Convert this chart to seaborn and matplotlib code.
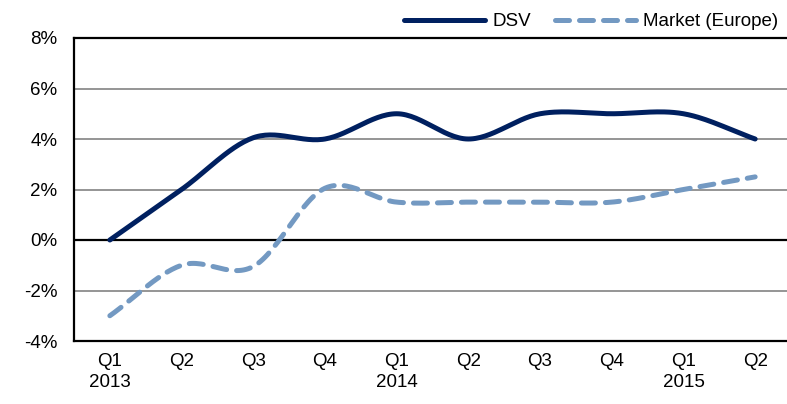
import numpy as np
import pandas as pd
import matplotlib
matplotlib.use("Agg")
import matplotlib.pyplot as plt
import seaborn as sns

quarters = ["Q1\n2013", "Q2", "Q3", "Q4", "Q1\n2014", "Q2", "Q3", "Q4", "Q1\n2015", "Q2"]
dsv = [0.0, 2.0, 4.05, 4.0, 5.0, 4.0, 5.0, 5.0, 5.0, 4.0]
market = [-3.0, -1.0, -1.05, 2.05, 1.5, 1.5, 1.5, 1.5, 2.0, 2.5]


def smooth(y, n=30):
    # Excel-style smoothed line (Catmull-Rom through the data points)
    y = np.asarray(y, float)
    x = np.arange(len(y), dtype=float)
    p = np.concatenate([[2 * y[0] - y[1]], y, [2 * y[-1] - y[-2]]])
    xs, ys = [], []
    for i in range(len(y) - 1):
        t = np.linspace(0, 1, n, endpoint=(i == len(y) - 2))
        p0, p1, p2, p3 = p[i], p[i + 1], p[i + 2], p[i + 3]
        yy = 0.5 * ((2 * p1) + (-p0 + p2) * t + (2 * p0 - 5 * p1 + 4 * p2 - p3) * t**2
                    + (-p0 + 3 * p1 - 3 * p2 + p3) * t**3)
        xs.append(x[i] + t)
        ys.append(yy)
    return np.concatenate(xs), np.concatenate(ys)


sns.set_style("white")
plt.rcParams["font.family"] = ["Liberation Sans", "DejaVu Sans"]
plt.rcParams["text.color"] = "black"
plt.rcParams["xtick.color"] = "black"
plt.rcParams["ytick.color"] = "black"

fig = plt.figure(figsize=(7.87, 4.04), dpi=100)
ax = fig.add_axes([74 / 787, 1 - 341 / 404, 717 / 787, 303 / 404])

xd, yd = smooth(dsv)
xm, ym = smooth(market)
df = pd.concat([
    pd.DataFrame({"x": xd, "y": yd, "series": "DSV"}),
    pd.DataFrame({"x": xm, "y": ym, "series": "Market (Europe)"}),
])

for yv in [-2, 2, 4, 6]:
    ax.axhline(yv, color="#8c8c8c", lw=1.3, zorder=0)
ax.axhline(0, color="black", lw=1.6, zorder=1)

sns.lineplot(data=df[df.series == "DSV"], x="x", y="y", ax=ax, color="#002060",
             lw=3.6, label="DSV", solid_capstyle="round", sort=False)
sns.lineplot(data=df[df.series == "Market (Europe)"], x="x", y="y", ax=ax,
             color="#7399c2", lw=3.6, label="Market (Europe)", sort=False,
             dashes=False, linestyle=(0, (2.8, 2.0)), dash_capstyle="round")

ax.set_xlim(-0.5, len(quarters) - 0.5)
ax.set_ylim(-4, 8)
ax.set_yticks(range(-4, 9, 2))
ax.set_yticklabels([f"{v}%" for v in range(-4, 9, 2)], fontsize=13.5)
ax.set_xticks(range(len(quarters)))
ax.set_xticklabels(quarters, fontsize=13.5, va="top", linespacing=1.3)
ax.tick_params(axis="y", length=0, pad=12)
ax.tick_params(axis="x", length=0, pad=9)
ax.set_xlabel("")
ax.set_ylabel("")

for s in ["left", "top", "bottom", "right"]:
    ax.spines[s].set_color("black")
    ax.spines[s].set_linewidth(1.6)

leg = ax.legend(loc="lower right", bbox_to_anchor=(0.985, 1.02), ncol=2, frameon=False,
                fontsize=13.5, handlelength=4.3, columnspacing=1.3, handletextpad=0.4,
                borderaxespad=0, borderpad=0.1)

fig.savefig("out.png", dpi=100)
